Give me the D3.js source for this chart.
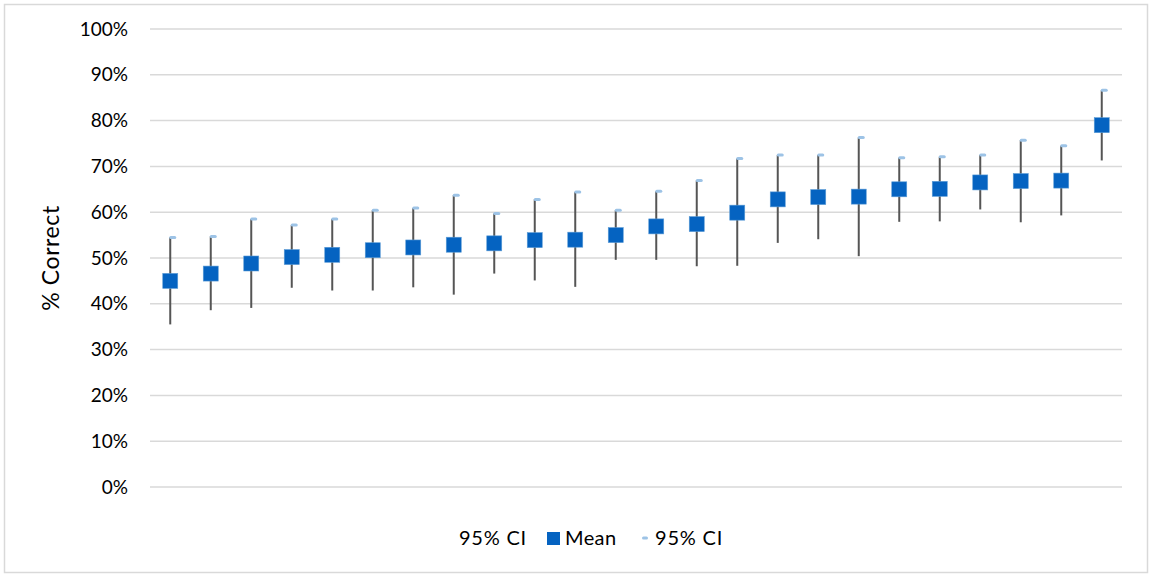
<!DOCTYPE html>
<html>
<head>
<meta charset="utf-8">
<script src="https://cdn.jsdelivr.net/npm/d3@7"></script>
<style>
  body { margin: 0; background: #fff; }
  text { font-family: Lato, "Open Sans", sans-serif; fill: #000; }
</style>
</head>
<body>
<div id="chart"></div>
<script>
// data (percent correct)
var items = d3.range(1, 25);
var meanVals = [45.0, 46.6, 48.8, 50.2, 50.7, 51.7, 52.3, 52.9, 53.2, 53.9, 54.0, 55.0,
                56.9, 57.4, 59.9, 62.8, 63.3, 63.4, 65.0, 65.1, 66.5, 66.8, 66.9, 79.0];
var upperVals = [54.5, 54.7, 58.5, 57.2, 58.5, 60.4, 60.9, 63.7, 59.7, 62.8, 64.4, 60.4,
                 64.6, 66.9, 71.7, 72.5, 72.5, 76.3, 71.9, 72.1, 72.5, 75.7, 74.5, 86.6];
var lowerVals = [35.5, 38.6, 39.1, 43.5, 42.9, 42.9, 43.6, 42.0, 46.6, 45.1, 43.7, 49.6,
                 49.6, 48.2, 48.3, 53.3, 54.1, 50.4, 57.9, 58.0, 60.6, 57.8, 59.3, 71.3];
var yTicks = [0, 10, 20, 30, 40, 50, 60, 70, 80, 90, 100];

var W = 1152, H = 577;
var margin = {top: 29, right: 30, bottom: 90, left: 150},
    width = W - margin.left - margin.right,
    height = H - margin.top - margin.bottom;

var root = d3.select("#chart").append("svg")
    .attr("width", W)
    .attr("height", H);

// outer chart border
root.append("rect")
    .attr("x", 4.5).attr("y", 4.5)
    .attr("width", W - 9).attr("height", H - 9)
    .attr("fill", "none")
    .attr("stroke", "#d9d9d9")
    .attr("stroke-width", 1.5);

var svg = root.append("g")
    .attr("transform", "translate(" + margin.left + "," + margin.top + ")");

var x = d3.scaleBand()
    .domain(items)
    .range([0, width]);

var y = d3.scaleLinear()
    .domain([0, 100])
    .range([height, 0]);

// gridlines
svg.append("g")
  .selectAll("line")
  .data(yTicks)
  .enter()
  .append("line")
    .attr("x1", 0)
    .attr("x2", width)
    .attr("y1", d => y(d))
    .attr("y2", d => y(d))
    .attr("stroke", "#d9d9d9")
    .attr("stroke-width", 1.5);

// y axis labels
var yAxis = svg.append("g")
    .call(d3.axisLeft(y).tickValues(yTicks).tickSize(0).tickPadding(22)
      .tickFormat(d => d + "%"));
yAxis.select(".domain").remove();
yAxis.selectAll("text")
    .style("font-family", "Lato, 'Open Sans', sans-serif")
    .style("font-size", "19px")
    .attr("fill", "#000");

svg.append("text")
    .attr("transform", "rotate(-90)")
    .attr("x", -y(50))
    .attr("y", -91)
    .attr("text-anchor", "middle")
    .style("font-size", "23px")
    .style("letter-spacing", "0.6px")
    .text("% Correct");

var pts = items.map((d, i) => ({item: d, mean: meanVals[i], hi: upperVals[i], lo: lowerVals[i]}));
var cx = d => x(d.item) + x.bandwidth() / 2;

// error bars
svg.append("g")
  .selectAll("line")
  .data(pts)
  .enter()
  .append("line")
    .attr("x1", cx)
    .attr("x2", cx)
    .attr("y1", d => y(d.hi))
    .attr("y2", d => y(d.lo))
    .attr("stroke", "#555555")
    .attr("stroke-width", 2);

// upper CI dash
svg.append("g")
  .selectAll("rect")
  .data(pts)
  .enter()
  .append("rect")
    .attr("x", d => cx(d) - 1)
    .attr("y", d => y(d.hi) - 1.5)
    .attr("width", 7)
    .attr("height", 3)
    .attr("rx", 1.5)
    .attr("fill", "#9dc3e6");

// mean markers
svg.append("g")
  .selectAll("rect")
  .data(pts)
  .enter()
  .append("rect")
    .attr("x", d => cx(d) - 7.5)
    .attr("y", d => y(d.mean) - 7.5)
    .attr("width", 15)
    .attr("height", 15)
    .attr("fill", "#0563c1")
    .attr("stroke", "#5b9bd5")
    .attr("stroke-width", 0.6);

// legend
var leg = root.append("g").attr("transform", "translate(0,538)");
leg.append("text").attr("x", 527).attr("y", 7).attr("text-anchor", "end")
    .style("font-size", "20px").style("letter-spacing", "0.8px").text("95% CI");
leg.append("rect").attr("x", 547).attr("y", -6).attr("width", 13).attr("height", 13).attr("fill", "#0563c1");
leg.append("text").attr("x", 565).attr("y", 7).style("font-size", "20px").style("letter-spacing", "0.4px").text("Mean");
leg.append("rect").attr("x", 642).attr("y", -1.5).attr("width", 6).attr("height", 3).attr("rx", 1.5).attr("fill", "#9dc3e6");
leg.append("text").attr("x", 655).attr("y", 7).style("font-size", "20px").style("letter-spacing", "0.8px").text("95% CI");
</script>
</body>
</html>
